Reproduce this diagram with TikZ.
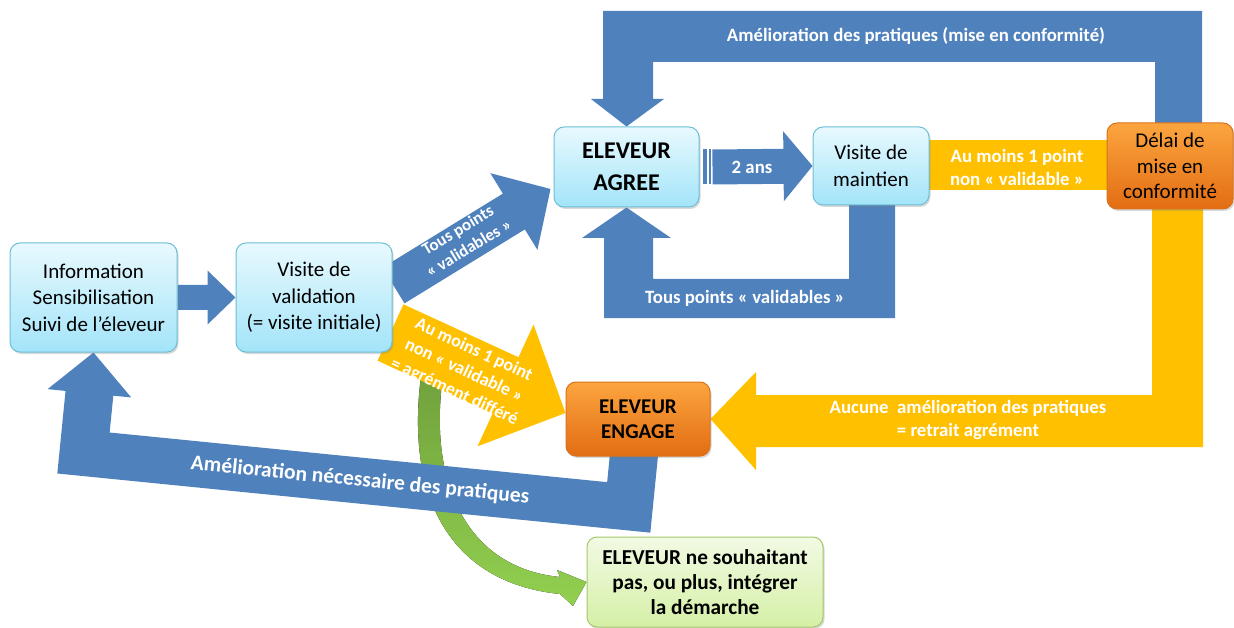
\documentclass[tikz,border=0pt]{standalone}
\usepackage{fontspec}
\setmainfont{Carlito}
\usetikzlibrary{calc,shadows}
\pgfdeclarelayer{fond}
\pgfsetlayers{fond,main}

\definecolor{bleu}{HTML}{4F81BD}
\definecolor{jaune}{HTML}{FFC000}
\definecolor{cielhaut}{HTML}{E8F9FE}
\definecolor{cielbas}{HTML}{A3E4F9}
\definecolor{cielbord}{HTML}{6CBFD6}
\definecolor{orhaut}{HTML}{FCA53F}
\definecolor{orbas}{HTML}{E26D12}
\definecolor{orbord}{HTML}{D9731E}
\definecolor{verthaut}{HTML}{F2FAE4}
\definecolor{vertbas}{HTML}{D5F0A6}
\definecolor{vertbord}{HTML}{A5C86A}
\definecolor{vertfonce}{HTML}{71A13C}
\definecolor{vertclair}{HTML}{92D050}

\tikzset{
	boite/.style={rounded corners=10pt, line width=1pt, align=center, inner sep=2pt,
		drop shadow={opacity=0.3, shadow xshift=1.5pt, shadow yshift=-2pt}},
	boiteciel/.style={boite, draw=cielbord, top color=cielhaut, bottom color=cielbas,
		font=\fontsize{21}{26.5}\selectfont},
	boiteorange/.style={boite, draw=orbord, top color=orhaut, bottom color=orbas},
	boiteverte/.style={boite, draw=vertbord, top color=verthaut, bottom color=vertbas,
		font=\bfseries\fontsize{21.3}{25}\selectfont},
	etiquette/.style={text=white, align=center, font=\bfseries\fontsize{18.8}{23}\selectfont},
}

\newcommand\grossefleche[6]{%
	\path ($(#3)!#6!(#2)$) coordinate (tetebase);
	\fill[#1] ($(#2)!#4!90:(#3)$) -- ($(tetebase)!#4!90:(#3)$) -- ($(tetebase)!#5!90:(#3)$)
		-- (#3) -- ($(tetebase)!#5!-90:(#3)$) -- ($(tetebase)!#4!-90:(#3)$)
		-- ($(#2)!#4!-90:(#3)$) -- cycle;
}

\begin{document}
\begin{tikzpicture}[x=1pt,y=-1pt]
	\useasboundingbox (0,0) rectangle (1234,628);

	\node[boiteciel, minimum width=167pt, minimum height=109pt] (info) at (93.5,297.5) {Information\\Sensibilisation\\Suivi de l’éleveur};
	\node[boiteciel, minimum width=156pt, minimum height=109pt] (valid) at (314,297.5) {Visite de\\validation\\(= visite initiale)};
	\node[boiteciel, minimum width=145pt, minimum height=80pt, font=\bfseries\fontsize{24}{32}\selectfont] (agree) at (626.5,167) {ELEVEUR\\AGREE};
	\node[boiteciel, minimum width=116pt, minimum height=78pt, font=\fontsize{21}{27}\selectfont] (maint) at (871,166) {Visite de\\maintien};
	\node[boiteorange, minimum width=126pt, minimum height=86pt, font=\fontsize{21}{25.5}\selectfont] (delai) at (1170,166) {Délai de\\mise en\\conformité};
	\node[boiteorange, minimum width=144pt, minimum height=74pt, font=\bfseries\fontsize{21}{25}\selectfont] (engage) at (638,419) {ELEVEUR\\ENGAGE};
	\node[boiteverte, minimum width=236pt, minimum height=90pt] (nouveau) at (705,582) {ELEVEUR ne souhaitant\\pas, ou plus, intégrer\\la démarche};

	\begin{pgfonlayer}{fond}
		\fill[top color=vertfonce, bottom color=vertclair] (421,376) .. controls (405,500) and (452,583) .. (560,594)
			-- (573,606) -- (nouveau.west) -- (557,570) -- (560,577) .. controls (465,568) and (428,480) .. (443,376) -- cycle;

		\fill[bleu] (1155,140) -- (1155,62) -- (653,62) -- (653,99) -- (664,99) -- (agree.north) -- (591,99)
			-- (603,99) -- (603,11) -- (1202,11) -- (1202,140) -- cycle;
		\node[etiquette] (lConformite) at (916,36) {Amélioration des pratiques (mise en conformité)};

		\fill[bleu] (849,200) -- (849,279) -- (653,279) -- (653,238) -- (671,238) -- (agree.south) -- (582,238)
			-- (604,238) -- (604,318) -- (895,318) -- (895,200) -- cycle;
		\node[etiquette] (lValidables) at (745,298) {Tous points « validables »};

		\grossefleche{bleu}{info.east}{valid.west}{12.5pt}{27pt}{28pt}

		\coordinate (dTous) at ($(valid.east)+(1,-12)$);
		\coordinate (fTous) at ($(agree.west)+(-3,22)$);
		\grossefleche{bleu}{dTous}{fTous}{21pt}{45pt}{43pt}
		\node[etiquette, rotate=31, font=\bfseries\fontsize{17}{21}\selectfont] (lTous) at (463,239) {Tous points\\« validables »};

		\foreach \dx/\l in {3/4,9/2.5}
			\fill[bleu] ($(agree.east)+(\dx,-17.5)$) rectangle ++(\l,35);
		\coordinate (dAns) at ($(agree.east)+(13,0)$);
		\grossefleche{bleu}{dAns}{maint.west}{17.5pt}{35pt}{29pt}
		\node[etiquette] (lAns) at (752,167) {2 ans};

		\begin{scope}[shift={(info.south)}, rotate=-5.7]
			\fill[bleu] (0,0) -- (42,41) -- (24,41) -- (24,78) -- (524,78) -- (524,30) -- (572,30) -- (572,124)
				-- (-24,124) -- (-24,41) -- (-42,41) -- cycle;
			\node[etiquette, rotate=-5.7, font=\bfseries\fontsize{21.5}{24}\selectfont] (lNecessaire) at (278,101) {Amélioration nécessaire des pratiques};
		\end{scope}

		\fill[jaune] ($(maint.east)+(-2,-26)$) rectangle ($(delai.west)+(2,24)$);
		\node[etiquette] (lMaintien) at (1017,167) {Au moins 1 point\\non « validable »};

		\fill[jaune] (1152,200) -- (1203,200) -- (1203,447) -- (756,447) -- (756,470) -- (engage.east) -- (756,372)
			-- (756,395) -- (1152,395) -- cycle;
		\node[etiquette] (lRetrait) at (968,420) {Aucune~ amélioration des pratiques\\= retrait agrément};

		\coordinate (dDiffere) at ($(valid.east)+(-2,35)$);
		\coordinate (fDiffere) at ($(engage.west)+(0,-6)$);
		\grossefleche{jaune}{dDiffere}{fDiffere}{31pt}{67pt}{66pt}
		\node[etiquette, rotate=-25, font=\bfseries\fontsize{18}{23}\selectfont] (lDiffere) at (464,371) {Au moins 1 point\\non « validable »\\= agrément différé};
	\end{pgfonlayer}
\end{tikzpicture}
\end{document}
